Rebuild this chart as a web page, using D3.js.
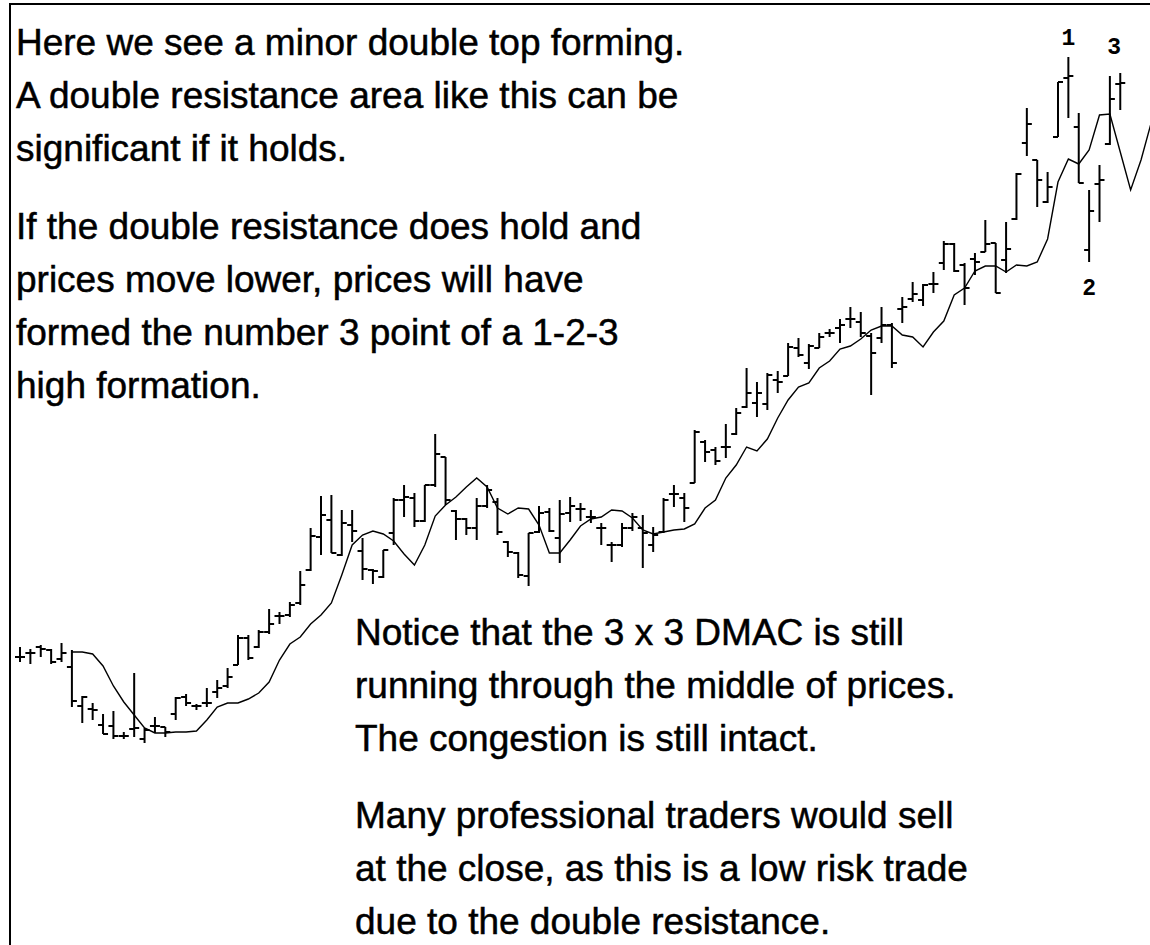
<!DOCTYPE html>
<html><head><meta charset="utf-8">
<script src="https://cdn.jsdelivr.net/npm/d3@7/dist/d3.min.js"></script>
<style>html,body{margin:0;padding:0;background:#fff;overflow:hidden}</style>
</head><body><svg id="chart" width="1150" height="945"></svg>
<script>
// ---- DATA (price units) ----
const barIndex = d3.range(107);
const opens = [34.3,34.7,35.3,35.0,34.1,33.3,29.4,29.1,27.5,27.4,
26.4,27.1,26.1,27.4,27.3,28.6,30.3,29.4,29.7,30.8,
31.4,33.5,36.2,35.3,36.8,38.4,38.5,39.7,43.0,46.3,
48.0,44.5,47.5,44.9,43.0,42.3,46.7,50.0,50.2,47.9,
51.5,54.3,48.9,48.1,47.2,49.4,49.8,45.8,44.7,42.4,
46.8,48.8,46.2,48.7,49.1,48.3,47.2,45.5,45.5,47.2,
47.2,45.5,46.8,50.6,50.2,51.7,55.8,55.0,55.3,56.6,
59.3,59.7,59.6,62.0,62.4,65.2,63.7,65.2,66.7,67.2,
68.1,67.8,66.4,66.2,67.5,69.1,70.1,70.0,71.6,73.7,
75.6,73.5,74.1,74.8,75.7,74.0,78.1,85.7,84.0,79.8,
86.3,92.2,87.3,75.0,81.6,85.6,91.6];
const highs = [35.3,35.1,35.5,35.1,35.7,35.0,30.4,29.7,28.6,28.9,
26.8,32.7,27.2,28.3,27.3,30.3,30.6,29.6,31.2,32.0,
33.2,36.5,36.5,37.0,39.1,38.8,39.8,42.9,47.2,50.4,
50.5,49.0,49.0,46.2,43.1,45.0,50.2,51.5,50.7,51.5,
56.6,54.3,49.0,48.2,50.2,51.5,50.2,45.9,44.8,46.7,
49.4,49.2,50.0,50.3,49.7,49.0,47.7,45.8,47.7,48.7,
48.5,47.3,50.2,51.5,50.7,57.0,56.0,55.3,57.6,59.2,
63.2,61.8,62.7,62.9,65.7,66.2,65.6,66.7,67.1,68.1,
69.3,68.8,66.7,69.3,67.7,70.3,71.8,71.6,72.8,75.9,
75.7,73.7,74.7,78.0,75.7,77.8,82.7,89.2,84.0,82.8,
91.8,94.3,88.7,81.0,83.5,92.4,92.7];
const lows = [33.8,33.6,34.3,33.6,33.8,29.3,27.7,28.0,26.6,26.1,
26.1,26.3,25.7,26.7,26.3,28.0,29.4,29.0,29.3,30.2,
31.2,33.5,34.0,35.2,36.6,37.6,38.3,39.5,42.9,44.5,
44.7,44.4,45.8,42.0,41.6,42.2,45.5,48.3,47.3,47.8,
51.3,49.5,46.0,46.5,46.0,49.2,46.5,44.3,42.2,41.4,
46.7,46.8,43.7,47.8,47.9,47.7,45.5,43.8,45.3,46.9,
43.2,44.8,46.7,49.3,47.8,51.7,53.8,53.5,54.2,56.5,
59.2,58.3,59.0,60.7,62.4,64.3,63.1,65.2,66.3,65.7,
67.2,66.3,60.5,65.7,63.2,67.7,69.8,69.4,70.7,73.0,
72.8,69.5,72.5,74.8,70.7,72.7,78.0,84.4,79.3,79.7,
86.3,88.2,81.7,73.8,77.8,85.5,89.0];
const closes = [34.3,34.7,35.1,33.8,34.7,29.9,30.3,29.0,26.6,26.4,
26.4,27.2,27.0,27.4,26.8,30.2,29.7,29.4,29.7,31.2,
32.3,36.2,34.2,36.8,37.6,38.4,39.5,41.5,46.4,48.5,
44.7,47.7,46.9,43.1,42.9,45.0,50.0,50.3,47.9,51.5,
54.6,50.0,48.1,47.2,49.4,51.0,46.8,44.8,42.5,46.7,
48.7,46.9,48.6,49.4,49.1,48.3,47.2,45.5,47.2,48.3,
46.7,46.5,50.0,50.6,49.2,56.8,54.8,53.9,55.3,58.7,
60.7,60.7,62.5,61.8,65.3,64.5,65.4,66.3,66.7,67.5,
68.1,66.7,64.7,67.5,63.7,69.3,70.6,71.5,71.6,75.6,
72.9,71.2,73.8,75.6,70.7,75.1,82.6,87.6,82.0,81.3,
91.8,92.4,81.7,78.9,82.0,90.1,91.7];
// 3x3 displaced moving average, starting at bar 5 and running 3 bars past the last bar
const maStart = 5;
const maValues = [34.8,34.8,34.6,33.4,31.4,29.8,28.5,27.2,26.7,26.7,
26.8,26.8,26.9,28.0,29.3,29.7,29.7,30.1,30.7,31.8,
34.0,35.6,36.3,37.6,38.5,39.7,42.5,45.5,46.5,46.9,
46.6,45.9,44.6,43.5,45.5,48.4,49.5,50.3,51.3,52.2,
51.3,49.2,48.6,49.2,49.1,47.5,44.7,44.7,46.0,47.4,
48.1,48.3,49.0,48.9,48.2,47.0,46.6,46.8,47.0,47.1,
47.6,49.2,50.0,52.2,53.5,55.3,54.9,56.1,58.2,60.0,
61.3,61.7,63.2,63.9,65.1,65.4,66.1,67.0,67.4,67.4,
66.5,66.3,65.3,66.8,67.9,70.5,71.2,72.9,73.4,73.4,
72.8,73.5,73.4,73.8,76.1,81.8,84.1,83.6,85.0,88.5,
88.6,84.8,81.0,84.0,87.8];
const pointLabels = ["1","2","3"];
const pointBars = [101,103,105.4];
const pointAt = ["high","low","high"];
const topNotes = [
 ["Here we see a minor double top forming.",
  "A double resistance area like this can be",
  "significant if it holds."],
 ["If the double resistance does hold and",
  "prices move lower, prices will have",
  "formed the number 3 point of a 1-2-3",
  "high formation."]];
const bottomNotes = [
 ["Notice that the 3 x 3 DMAC is still",
  "running through the middle of prices.",
  "The congestion is still intact."],
 ["Many professional traders would sell",
  "at the close, as this is a low risk trade",
  "due to the double resistance."]];

// ---- DRAW ----
const W = 1150, H = 945;
const svg = d3.select("#chart");
const x = d3.scaleLinear().domain([0, 109]).range([20, 1151.4]);
const y = d3.scaleLinear().domain([20, 100]).range([800, 0]);

// frame
svg.append("path").attr("d", `M10,${H+5} L10,4 L${W+5},4`)
  .attr("fill","none").attr("stroke","#000").attr("stroke-width",2);

const bars = barIndex.map(i => ({i, o: opens[i], h: highs[i], l: lows[i], c: closes[i]}));
const g = svg.append("g").attr("stroke","#000").attr("stroke-width",2).attr("stroke-linecap","butt");
const tick = 5;
g.selectAll("line.v").data(bars).join("line").attr("class","v")
  .attr("x1", d => x(d.i)).attr("x2", d => x(d.i))
  .attr("y1", d => y(d.h)).attr("y2", d => y(d.l));
g.selectAll("line.o").data(bars).join("line").attr("class","o")
  .attr("x1", d => x(d.i) - tick).attr("x2", d => x(d.i))
  .attr("y1", d => y(d.o)).attr("y2", d => y(d.o));
g.selectAll("line.c").data(bars).join("line").attr("class","c")
  .attr("x1", d => x(d.i)).attr("x2", d => x(d.i) + tick)
  .attr("y1", d => y(d.c)).attr("y2", d => y(d.c));

const ma = maValues.map((v, k) => ({i: maStart + k, v}));
svg.append("path").datum(ma)
  .attr("fill","none").attr("stroke","#000").attr("stroke-width",1.4)
  .attr("d", d3.line().x(d => x(d.i)).y(d => y(d.v)));

// point labels 1-2-3
const labelOffset = {high: [-12, -21], low: [33]};
pointLabels.forEach((t, k) => {
  const bi = pointBars[k];
  const isHigh = pointAt[k] === "high";
  const v = isHigh ? highs[Math.floor(bi)] : lows[Math.round(bi)];
  const off = isHigh ? (k === 0 ? -12 : -22) : 33;
  svg.append("text").text(t)
    .attr("x", x(bi)).attr("y", y(v) + off)
    .attr("text-anchor","middle")
    .attr("font-family","'Liberation Mono', 'DejaVu Sans Mono', monospace")
    .attr("font-weight","bold")
    .attr("font-size", 23).attr("fill","#000");
});

// notes
function drawNotes(blocks, x0, y0, lineH, gap) {
  let yy = y0;
  blocks.forEach(block => {
    block.forEach(line => {
      svg.append("text").text(line).attr("x", x0).attr("y", yy)
        .attr("font-family","'Liberation Sans', Arial, sans-serif")
        .attr("font-size", 37).attr("fill","#000")
        .attr("stroke","#000").attr("stroke-width",0.5);
      yy += lineH;
    });
    yy += gap;
  });
}
drawNotes(topNotes, 16, 55, 53, 25);
drawNotes(bottomNotes, 355, 645, 53, 24);
</script></body></html>
